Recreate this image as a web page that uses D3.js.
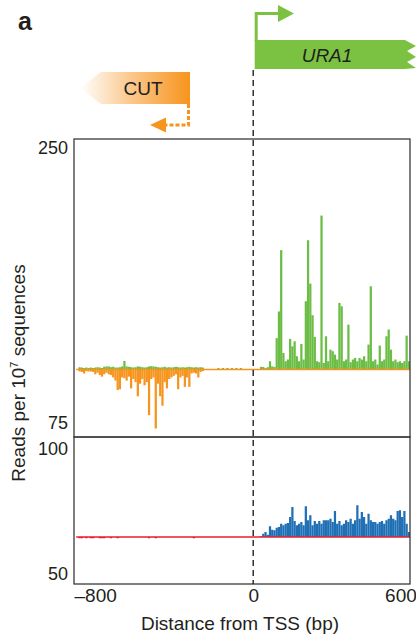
<!DOCTYPE html>
<html>
<head>
<meta charset="utf-8">
<script src="https://cdn.jsdelivr.net/npm/d3@7"></script>
<style>
  body { margin: 0; background: #fff; }
  svg { display: block; font-family: "Liberation Sans", Arial, sans-serif; }
</style>
</head>
<body>
<svg id="chart" width="416" height="635"></svg>
<script>
// reads binned in 10 bp windows, left part starts at -800, right part at +30
var binSize = 10
var leftStart = -800
var rightStart = 30

// top panel, sense strand (green) upstream of TSS
var senseLeft = [109, 109, 110.5, 110.3, 110, 110.3, 110, 110.3, 110, 110.3,
    110.5, 110.3, 110, 110.8, 111, 111, 110.5, 110.8, 110.3, 110.3,
    110.5, 111, 114.5, 111, 110.8, 110.5, 110.3, 110.5, 111, 110.8,
    110.5, 110.3, 110.5, 111, 111.2, 111, 110.8, 110.5, 110.3, 110.5,
    110.8, 110.3, 110.5, 110.3, 110.5, 110.8, 110.5, 110.3, 110.5, 110.3,
    110.5, 110.8, 110.5, 110.3, 110.5, 110.3, 110.5, 110.3, 109, 109,
    109, 109, 109, 109, 110, 109, 110, 109, 110, 109,
    110, 109, 110, 109, 110, 109, 109, 109, 109, 109]

// top panel, antisense strand (orange, the CUT)
var antisenseLeft = [109, 109, 107.8, 107.5, 106.5, 108, 107.8, 107.8, 107.5, 106,
    107, 105.5, 104.5, 106, 107, 106, 105.5, 104, 102, 96,
    96.5, 104, 103.5, 102, 104.5, 97, 103, 101, 92, 100,
    103, 99, 101, 80, 103, 104, 71.5, 100, 92, 86,
    101, 97, 103, 104, 105, 106, 96.5, 104, 105, 98,
    104, 98, 106.5, 107, 106.5, 104, 107.5, 108, 109, 109,
    109, 109, 109, 109, 109, 109, 109, 109, 109, 109,
    109, 109, 109, 109, 109, 109, 109, 109, 109, 109]

// top panel, sense strand (green) over URA1
var senseRight = [110.7, 110.7, 110, 110.5, 114.3, 111, 110.7, 129, 146, 185,
    119.6, 114.3, 115.4, 128.5, 123.8, 127, 117.5, 114.3, 125.3, 115.4,
    152.5, 191.3, 163.7, 143.6, 129.8, 114.3, 113.7, 207, 113.2, 130.2,
    114.3, 121.7, 120.7, 118.5, 115.4, 151.4, 149.3, 114.3, 115.4, 137.6,
    113.7, 115.4, 116.4, 114.3, 116.4, 115.4, 117.5, 114.3, 124.9, 162,
    114.3, 115.4, 112.2, 124.3, 114.3, 115.4, 130.2, 134.5, 121.7, 114.3,
    115.4, 113.7, 114.3, 113.2, 114.3, 130.6, 114.3]

// bottom panel, upstream (red) and URA1 (blue)
var redLeft = [64.8, 64.8, 64.3, 64.3, 64.8, 64.3, 64.8, 64.3, 64.3, 64.8,
    64.8, 64.3, 64.3, 64.3, 64.8, 64.8, 64.3, 64.8, 64.8, 64.3,
    64.8, 64.8, 64.8, 64.8, 64.8, 64.8, 64.8, 64.8, 64.8, 64.8,
    64.8, 64.8, 64.8, 64.3, 64.8, 64.8, 64.3, 64.8, 64.8, 64.8,
    64.8, 64.8, 64.8, 64.8, 64.8, 64.8, 64.8, 64.8, 64.8, 64.8,
    64.8, 64.8, 64.8, 64.3, 64.8, 64.8, 64.8, 64.8, 64.8, 64.8,
    64.8, 64.8, 64.8, 64.8, 64.8, 64.8, 64.8, 64.8, 64.8, 64.8,
    64.8, 64.8, 64.8, 64.8, 64.8, 64.8, 64.8, 64.8, 64.8, 64.8]

var blueRight = [65.1, 66.1, 66.8, 65.7, 69.1, 67.7, 67.5, 68.5, 68.8, 70.1,
    69.5, 70.1, 70.4, 72.8, 76.8, 71.2, 69.5, 70.1, 70.8, 69.5,
    77.1, 71.5, 73.5, 69.5, 71.2, 70.1, 71.2, 70.1, 71.5, 71.5,
    71.5, 72.1, 70.8, 75.2, 70.1, 71.2, 69.5, 70.1, 71.5, 70.8,
    72.1, 70.1, 71.5, 77.5, 72.1, 74.8, 72.8, 70.1, 74.1, 71.5,
    70.8, 70.8, 70.1, 70.8, 71.2, 70.1, 71.5, 72.1, 73.5, 72.1,
    71.5, 75.2, 75.5, 72.8, 75.2, 70.1, 66.8]

var baseTop = 109
var baseBottom = 64.8
var topTicks = [75, 250]
var bottomTicks = [50, 100]
var xTicks = [-800, 0, 600]

var svg = d3.select('#chart')
var ink = '#231f20'

var x = d3.scaleLinear().domain([-800, 700]).range([74, 410])
var yTop = d3.scaleLinear().domain([75, 250]).range([423, 148])
var yBot = d3.scaleLinear().domain([50, 100]).range([574, 449])

var panelTop = 139, panelMid = 437, panelBottom = 584

svg.append('clipPath').attr('id', 'clipTop')
    .append('rect').attr('x', 74).attr('y', panelTop).attr('width', 336).attr('height', panelMid - panelTop)
svg.append('clipPath').attr('id', 'clipBot')
    .append('rect').attr('x', 74).attr('y', panelMid).attr('width', 336).attr('height', panelBottom - panelMid)

function bins(arr, start) {
    return arr.map(function(v, i) { return { bp: start + i * binSize, v: v } })
}

function drawBars(g, data, y, base, color) {
    g.selectAll(null)
        .data(data.filter(d => d.v != base))
        .enter()
        .append('rect')
        .attr('x', d => x(d.bp))
        .attr('width', x(binSize) - x(0))
        .attr('y', d => Math.min(y(d.v), y(base)))
        .attr('height', d => Math.abs(y(d.v) - y(base)))
        .attr('fill', color)
}

var green = '#6cbd45', orange = '#f7941d', blue = '#1f6fb5', red = '#e5202e'

// top panel
var gTop = svg.append('g').attr('clip-path', 'url(#clipTop)')
drawBars(gTop, bins(senseLeft, leftStart), yTop, baseTop, green)
drawBars(gTop, bins(antisenseLeft, leftStart), yTop, baseTop, orange)
drawBars(gTop, bins(senseRight, rightStart), yTop, baseTop, green)
gTop.append('line')
    .attr('x1', x(leftStart + binSize)).attr('x2', 410)
    .attr('y1', yTop(baseTop)).attr('y2', yTop(baseTop))
    .attr('stroke', orange).attr('stroke-width', 1.6)

// bottom panel
var gBot = svg.append('g').attr('clip-path', 'url(#clipBot)')
drawBars(gBot, bins(blueRight, rightStart), yBot, baseBottom, blue)
drawBars(gBot, bins(redLeft, leftStart), yBot, baseBottom, red)
gBot.append('line')
    .attr('x1', x(leftStart + binSize)).attr('x2', 410)
    .attr('y1', yBot(baseBottom)).attr('y2', yBot(baseBottom))
    .attr('stroke', red).attr('stroke-width', 1.6)

// frames
svg.append('rect').attr('x', 74).attr('y', panelTop).attr('width', 336).attr('height', panelMid - panelTop)
    .attr('fill', 'none').attr('stroke', '#3a3a3a').attr('stroke-width', 1.3)
svg.append('rect').attr('x', 74).attr('y', panelMid).attr('width', 336).attr('height', panelBottom - panelMid)
    .attr('fill', 'none').attr('stroke', '#3a3a3a').attr('stroke-width', 1.3)

// TSS line
svg.append('line')
    .attr('x1', x(0)).attr('x2', x(0)).attr('y1', 70).attr('y2', panelBottom)
    .attr('stroke', '#222').attr('stroke-width', 1.4).attr('stroke-dasharray', '6,4')

// axes
function styleAxis(g) {
    g.select('.domain').remove()
    g.selectAll('text').attr('fill', ink).style('font-size', '18px')
}
svg.append('g').attr('transform', 'translate(74,0)')
    .call(d3.axisLeft(yTop).tickValues(topTicks).tickSize(0).tickPadding(6))
    .call(styleAxis)
svg.append('g').attr('transform', 'translate(74,0)')
    .call(d3.axisLeft(yBot).tickValues(bottomTicks).tickSize(0).tickPadding(6))
    .call(styleAxis)
var xg = svg.append('g').attr('transform', 'translate(0,' + panelBottom + ')')
    .call(d3.axisBottom(x).tickValues(xTicks).tickSize(0).tickPadding(5)
        .tickFormat(d => d < 0 ? '\u2013' + Math.abs(d) : d))
    .call(styleAxis)
xg.selectAll('.tick text').style('font-size', '19px')
    .attr('text-anchor', d => d == 0 ? 'middle' : 'start')
    .attr('dx', d => d > 0 ? -3 : 0)

svg.append('text')
    .attr('x', 240).attr('y', 630)
    .attr('text-anchor', 'middle').attr('fill', ink)
    .style('font-size', '19px')
    .text('Distance from TSS (bp)')

var yl = svg.append('text')
    .attr('transform', 'translate(25,373) rotate(-90)')
    .attr('text-anchor', 'middle').attr('fill', ink)
    .style('font-size', '19px')
yl.append('tspan').text('Reads per 10')
yl.append('tspan').attr('dy', -7).style('font-size', '11px').text('7')
yl.append('tspan').attr('dy', 7).text(' sequences')

// panel letter
svg.append('text').attr('x', 18).attr('y', 30)
    .style('font-size', '25px').style('font-weight', 'bold').attr('fill', ink).text('a')

// URA1 gene with TSS arrow
var gx = x(0) + 3
var lightGreen = '#7cc242'
svg.append('path')
    .attr('d', 'M' + gx + ',41 V13.5 H280')
    .attr('fill', 'none').attr('stroke', lightGreen).attr('stroke-width', 3)
svg.append('path')
    .attr('d', 'M278,5 L294,13.5 L278,22 Z').attr('fill', lightGreen)
svg.append('path')
    .attr('d', 'M' + (gx - 1.5) + ',40 H405 L416,46 L407,51 L416,57 L407,62 L416,68 L405,69 H' + (gx - 1.5) + ' Z')
    .attr('fill', lightGreen)
svg.append('text').attr('x', 327).attr('y', 61.5)
    .attr('text-anchor', 'middle').attr('fill', ink)
    .style('font-size', '19px').style('font-style', 'italic').text('URA1')

// CUT arrow
var grad = svg.append('defs').append('linearGradient').attr('id', 'cutGrad')
    .attr('x1', '0%').attr('x2', '100%')
grad.append('stop').attr('offset', '0%').attr('stop-color', '#ffffff')
grad.append('stop').attr('offset', '45%').attr('stop-color', '#fbc98f')
grad.append('stop').attr('offset', '100%').attr('stop-color', orange)
svg.append('path')
    .attr('d', 'M80,88 L101,72 H190 V104 H101 Z').attr('fill', 'url(#cutGrad)')
svg.append('text').attr('x', 143).attr('y', 95)
    .attr('text-anchor', 'middle').attr('fill', ink)
    .style('font-size', '19px').text('CUT')
svg.append('path')
    .attr('d', 'M188.5,104 V125 H166')
    .attr('fill', 'none').attr('stroke', orange).attr('stroke-width', 3).attr('stroke-dasharray', '4,2')
svg.append('path')
    .attr('d', 'M150,125 L166,117.5 L166,132.5 Z').attr('fill', orange)
</script>
</body>
</html>
